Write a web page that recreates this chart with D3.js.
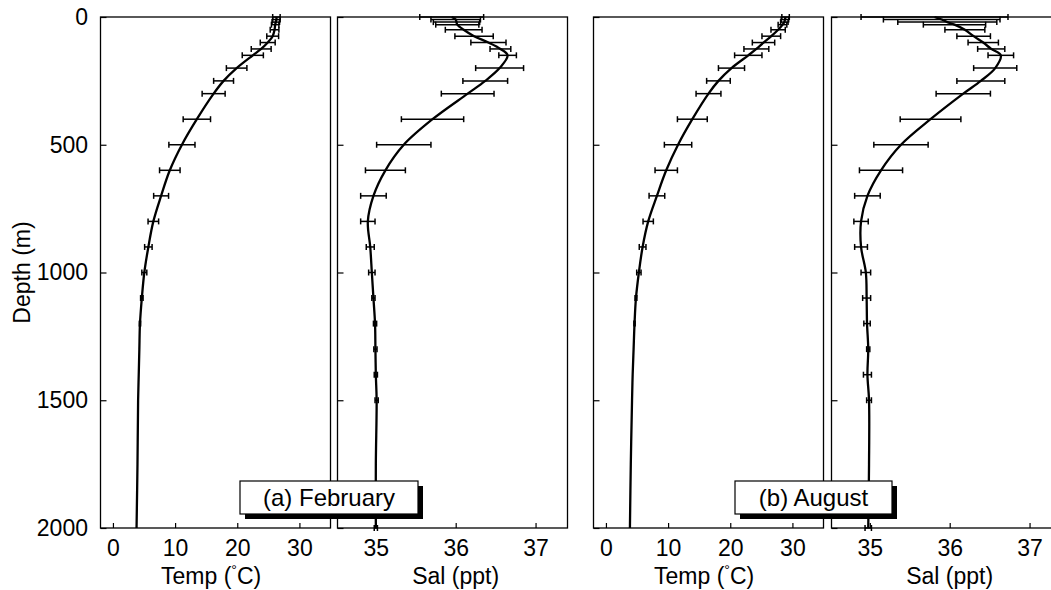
<!DOCTYPE html>
<html>
<head>
<meta charset="utf-8">
<script src="https://cdn.jsdelivr.net/npm/d3@7"></script>
<style>
  body { margin: 0; background: #fff; }
  svg { display: block; font-family: "Liberation Sans", Arial, Helvetica, sans-serif; }
</style>
</head>
<body>
<div id="chart"></div>
<script>
// standard depth levels (m)
const depths = [0, 10, 20, 30, 50, 75, 100, 125, 150, 200, 250, 300, 400, 500, 600, 700, 800, 900, 1000, 1100, 1200, 1300, 1400, 1500, 1750, 2000];

const tempFeb = [26.3, 26.3, 26.2, 26.1, 26.0, 25.7, 24.9, 23.85, 22.5, 19.9, 17.8, 16.2, 13.5, 11.1, 9.15, 7.75, 6.5, 5.7, 5.05, 4.65, 4.35, 4.25, 4.15, 4.05, 3.95, 3.8];
const tempFebErr = [0.6, 0.6, 0.6, 0.6, 0.7, 0.95, 1.2, 1.6, 1.7, 1.65, 1.6, 1.85, 2.2, 2.1, 1.65, 1.2, 0.85, 0.6, 0.4, 0.2, 0.1, null, null, null, null, null];

const salFeb = [35.95, 36.0, 36.01, 36.02, 36.1, 36.23, 36.41, 36.56, 36.65, 36.55, 36.37, 36.15, 35.71, 35.35, 35.12, 34.97, 34.9, 34.93, 34.95, 34.97, 34.99, 34.995, 35.0, 35.01, 35.0, 35.0];
const salFebErr = [0.4, 0.31, 0.29, 0.27, 0.23, 0.24, 0.22, 0.13, 0.11, 0.3, 0.28, 0.33, 0.39, 0.34, 0.25, 0.16, 0.09, 0.05, 0.04, 0.02, 0.02, 0.02, 0.02, 0.02, null, 0.02];

const tempAug = [28.9, 28.8, 28.7, 28.4, 27.7, 26.6, 25.35, 24.2, 22.9, 20.2, 18.1, 16.5, 13.9, 11.6, 9.7, 8.2, 6.8, 5.9, 5.3, 4.83, 4.6, 4.45, 4.3, 4.2, 4.0, 3.86];
const tempAugErr = [0.6, 0.6, 0.6, 0.7, 1.15, 1.5, 1.8, 2.0, 2.2, 2.1, 1.9, 2.0, 2.4, 2.2, 1.8, 1.26, 0.83, 0.54, 0.35, 0.15, 0.1, null, null, null, null, null];

const salAug = [35.81, 35.9, 35.97, 36.06, 36.19, 36.3, 36.42, 36.52, 36.64, 36.57, 36.39, 36.17, 35.76, 35.39, 35.14, 34.97, 34.89, 34.89, 34.95, 34.96, 34.965, 34.98, 34.97, 34.99, 34.99, 34.98];
const salAugErr = [0.92, 0.73, 0.62, 0.39, 0.25, 0.21, 0.19, 0.17, 0.16, 0.27, 0.3, 0.34, 0.38, 0.34, 0.27, 0.16, 0.09, 0.08, 0.06, 0.05, 0.04, 0.02, 0.05, 0.03, null, 0.04];

const depthTicks = [0, 500, 1000, 1500, 2000];
const tempTicks = [0, 10, 20, 30];
const salTicks = [35, 36, 37];
const monthLabels = ["(a) February", "(b) August"];

const W = 1051, H = 590;
const plotTop = 17, plotBottom = 528, panelW = 230;
const fontSize = "23px";

const svg = d3.select("#chart").append("svg").attr("width", W).attr("height", H);

const y = d3.scaleLinear().domain([0, 2000]).range([plotTop, plotBottom]);

const panels = [
  { left: 100.5, kind: "temp", vals: tempFeb, errs: tempFebErr, yLabels: true },
  { left: 337.5, kind: "sal", vals: salFeb, errs: salFebErr, yLabels: false },
  { left: 593.5, kind: "temp", vals: tempAug, errs: tempAugErr, yLabels: false },
  { left: 831.5, kind: "sal", vals: salAug, errs: salAugErr, yLabels: false },
];

panels.forEach((p) => {
  const x = d3.scaleLinear()
    .domain(p.kind === "temp" ? [-2, 35] : [34.52, 37.4])
    .range([p.left, p.left + panelW]);

  const g = svg.append("g");

  // x axis, ticks pointing inward
  g.append("g")
    .attr("transform", `translate(0,${plotBottom})`)
    .call(d3.axisBottom(x)
      .tickValues(p.kind === "temp" ? tempTicks : salTicks)
      .tickFormat(d3.format("d"))
      .tickSizeInner(-5).tickSizeOuter(0).tickPadding(12))
    .call((a) => a.select(".domain").remove())
    .call((a) => a.selectAll("line").attr("stroke", "#000").attr("stroke-width", 1.2))
    .call((a) => a.selectAll("text").attr("fill", "#000").style("font-size", fontSize));

  // y axis
  g.append("g")
    .attr("transform", `translate(${p.left},0)`)
    .call(d3.axisLeft(y)
      .tickValues(depthTicks)
      .tickFormat(p.yLabels ? d3.format("d") : () => "")
      .tickSizeInner(-6).tickSizeOuter(0).tickPadding(12.5))
    .call((a) => a.select(".domain").remove())
    .call((a) => a.selectAll("line").attr("stroke", "#000").attr("stroke-width", 1.2))
    .call((a) => a.selectAll("text").attr("fill", "#000").style("font-size", fontSize));

  // panel frame
  g.append("rect")
    .attr("x", p.left).attr("y", plotTop)
    .attr("width", panelW).attr("height", plotBottom - plotTop)
    .attr("fill", "none").attr("stroke", "#000").attr("stroke-width", 1.3);

  const pts = depths.map((d, i) => ({ d, v: p.vals[i], e: p.errs[i] }));

  // error bars
  const bars = g.append("g").attr("stroke", "#000").attr("stroke-width", 1.5);
  pts.filter((q) => q.e != null).forEach((q) => {
    const x0 = x(q.v - q.e), x1 = x(q.v + q.e), yy = y(q.d);
    bars.append("line").attr("x1", x0).attr("x2", x1).attr("y1", yy).attr("y2", yy);
    bars.append("line").attr("x1", x0).attr("x2", x0).attr("y1", yy - 3).attr("y2", yy + 3);
    bars.append("line").attr("x1", x1).attr("x2", x1).attr("y1", yy - 3).attr("y2", yy + 3);
  });

  // mean profile
  g.append("path")
    .datum(pts)
    .attr("fill", "none")
    .attr("stroke", "#000")
    .attr("stroke-width", 2.3)
    .attr("d", d3.line().x((q) => x(q.v)).y((q) => y(q.d)).curve(d3.curveCatmullRom.alpha(0.5)));

  // axis title
  const title = g.append("text")
    .attr("x", p.kind === "temp" ? x(15.8) : x(36))
    .attr("y", 584)
    .attr("text-anchor", "middle")
    .style("font-size", fontSize);
  if (p.kind === "temp") {
    title.append("tspan").text("Temp (");
    title.append("tspan").attr("dy", -9).style("font-size", "14px").text("°");
    title.append("tspan").attr("dy", 9).text("C)");
  } else {
    title.text("Sal (ppt)");
  }
});

svg.append("text")
  .attr("transform", `translate(30,${y(1000)}) rotate(-90)`)
  .attr("text-anchor", "middle")
  .style("font-size", fontSize)
  .text("Depth (m)");

// month boxes with drop shadow
const boxes = [
  { x: 240, w: 178 },
  { x: 735, w: 157 },
];
boxes.forEach((b, i) => {
  svg.append("rect").attr("x", b.x + 5).attr("y", 486).attr("width", b.w).attr("height", 33).attr("fill", "#000");
  svg.append("rect").attr("x", b.x).attr("y", 481).attr("width", b.w).attr("height", 33)
    .attr("fill", "#fff").attr("stroke", "#000").attr("stroke-width", 1.2);
  svg.append("text")
    .attr("x", b.x + b.w / 2).attr("y", 506)
    .attr("text-anchor", "middle")
    .style("font-size", "24px")
    .text(monthLabels[i]);
});
</script>
</body>
</html>
